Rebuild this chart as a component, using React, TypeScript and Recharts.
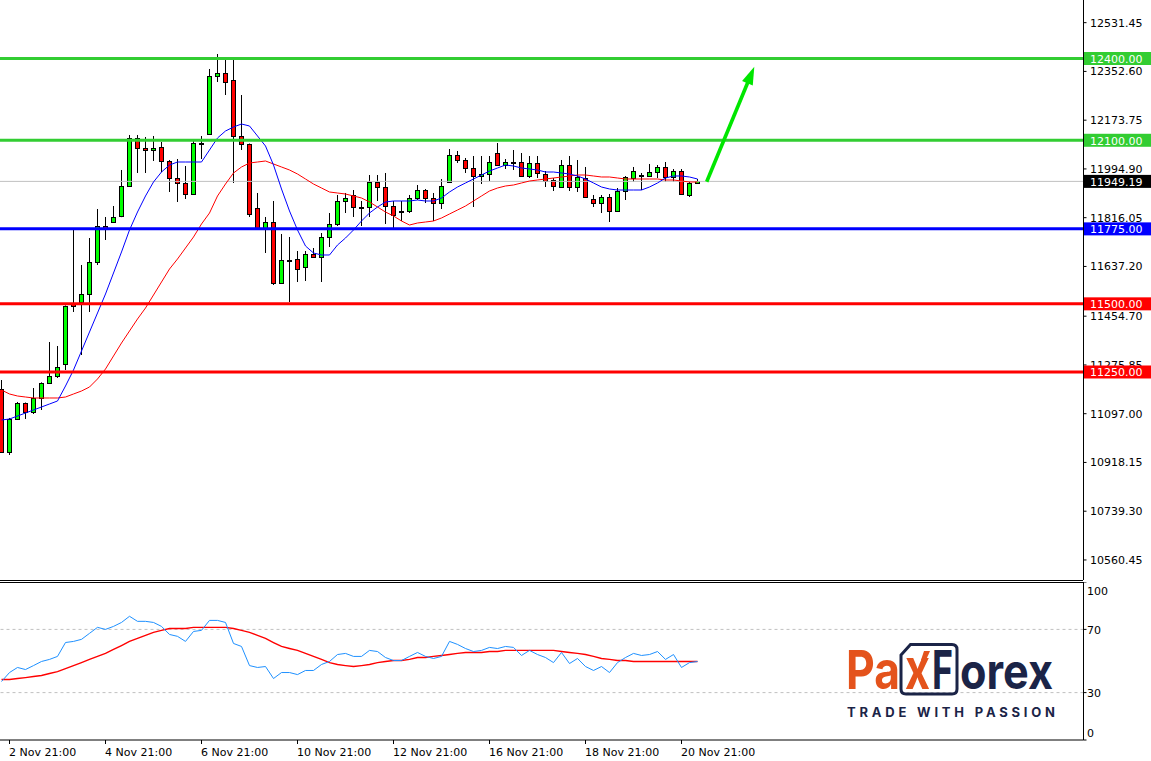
import React from 'react';
import { ComposedChart, Bar, Line, XAxis, YAxis, ReferenceLine } from 'recharts';

// ---- price data (4h candles) ----
const opens = [11187.6,10956.5,11077.6,11136.2,11103.2,11154.6,11209.6,11235.3,11279.3,11503.1,11506.7,11536.1,11653.5,11785.5,11800.2,11822.2,11932.3,12108.4,12071.7,12064.3,12075.3,12024.0,11961.6,11943.3,11902.9,12090.0,12123.0,12335.8,12346.8,12321.1,12115.7,12086.3,11851.6,11778.2,11800.2,11576.4,11660.8,11664.5,11635.1,11682.8,11671.8,11745.2,11792.9,11877.3,11899.3,11855.2,11855.2,11946.9,11928.6,11858.9,11840.6,11840.6,11888.3,11917.6,11888.3,11869.9,11946.9,12046.0,12027.7,11998.3,11968.9,11976.3,12053.3,12009.3,12020.3,12020.3,11968.9,12016.7,11976.3,11954.3,11928.6,12009.3,11928.6,11961.6,11884.6,11869.9,11891.9,11840.6,11913.9,11961.6,11972.6,11968.9,11983.6,12002.0,11965.3,11987.3,11899.3,11943.3];
const highs = [11220.6,11081.3,11140.0,11138.0,11191.2,11212.0,11360.0,11345.3,11494.0,11770.9,11642.5,11741.5,11847.9,11818.6,11858.9,11991.0,12119.4,12119.4,12112.0,12115.7,12093.7,12027.7,12031.3,12005.6,12101.0,12115.7,12361.5,12416.5,12394.5,12394.5,12266.1,12088.0,11906.6,11818.6,11877.3,11756.2,11745.2,11693.8,11693.8,11704.8,11759.8,11833.2,11899.3,11906.6,11917.6,11877.3,11972.6,11972.6,11980.0,11877.3,11877.3,11899.3,11935.9,11921.3,11906.6,11957.9,12068.0,12060.7,12035.0,12042.3,12042.3,12042.3,12090.0,12031.3,12064.3,12053.3,12042.3,12042.3,11987.3,11961.6,12027.7,12042.3,12027.7,12002.0,11899.3,11899.3,11902.9,11924.9,11968.9,12002.0,11980.0,12013.0,12009.3,12020.3,11994.6,11994.6,11950.6,11957.9];
const lows = [10952.8,10945.5,11074.0,11077.6,11095.9,11110.6,11206.0,11228.0,11257.3,11470.1,11312.3,11470.1,11642.5,11734.2,11796.5,11818.0,11928.6,11980.0,11980.0,12024.0,11983.6,11910.3,11873.6,11884.6,11899.3,12031.3,12120.0,12313.8,12266.1,11943.3,12064.3,11818.6,11777.0,11686.5,11569.1,11574.0,11506.7,11580.1,11583.8,11670.0,11580.1,11708.5,11785.5,11833.2,11818.6,11785.5,11818.6,11877.3,11792.9,11778.2,11803.9,11833.2,11880.9,11869.9,11803.9,11847.9,11945.0,12016.7,11980.0,11855.2,11939.6,11950.6,12008.0,11994.6,11991.0,11965.3,11961.6,11961.6,11928.6,11913.9,11927.0,11913.9,11910.3,11890.0,11855.2,11833.2,11800.2,11839.0,11880.9,11946.9,11917.6,11967.0,11961.6,11946.9,11946.9,11901.0,11891.9,11939.6];
const closes = [10956.5,11077.6,11136.2,11103.2,11154.6,11209.6,11235.3,11268.3,11492.1,11492.1,11536.1,11653.5,11785.5,11774.5,11818.6,11932.3,12108.4,12071.7,12064.3,12071.7,12024.0,11961.6,11943.3,11902.9,12090.0,12088.5,12335.8,12346.8,12313.8,12115.7,12086.3,11829.6,11778.2,11800.2,11576.4,11660.8,11662.5,11627.8,11682.8,11671.8,11745.2,11792.9,11877.3,11888.3,11855.2,11856.5,11946.9,11928.6,11858.9,11825.9,11842.0,11888.3,11917.6,11888.3,11869.9,11932.3,12046.0,12027.7,11998.3,11968.9,11976.3,12020.3,12009.3,12020.3,12021.5,11968.9,12016.7,11980.0,11950.6,11932.3,12009.3,11928.6,11965.3,11891.9,11869.9,11891.9,11840.6,11913.9,11965.3,11987.3,11974.0,11983.6,12002.0,11965.3,11987.3,11902.9,11943.3,11949.19];
const maFast = [11073.9,11077.5,11088.5,11099.5,11110.6,11121.6,11132.6,11143.6,11198.6,11257.3,11327.0,11396.7,11466.4,11536.1,11613.1,11690.2,11770.9,11836.9,11895.6,11947.0,11983.6,12009.3,12020.3,12020.3,12020.3,12020.3,12064.3,12108.4,12134.0,12148.7,12159.7,12152.4,12115.7,12079.0,12009.3,11921.3,11840.6,11770.9,11712.2,11686.5,11679.2,11679.2,11715.8,11741.5,11770.9,11803.9,11833.2,11855.2,11873.6,11877.3,11877.3,11877.3,11880.9,11877.3,11877.3,11888.3,11910.3,11928.6,11943.3,11958.0,11972.6,11987.3,11998.3,12009.3,12005.6,11998.3,11994.6,11991.0,11983.6,11983.6,11980.0,11976.3,11969.0,11958.0,11943.3,11928.6,11921.3,11917.6,11917.6,11917.6,11917.6,11928.6,11943.3,11961.6,11969.0,11969.0,11965.3,11958.0];
const maSlow = [11183.9,11169.3,11161.9,11158.2,11154.6,11154.6,11154.6,11154.6,11158.2,11169.3,11180.2,11194.9,11224.3,11261.0,11308.7,11356.3,11400.4,11444.4,11484.7,11532.4,11580.1,11627.8,11664.5,11704.8,11745.2,11792.9,11833.2,11895.6,11939.6,11980.0,12002.0,12016.6,12020.3,12024.0,12013.0,12002.0,11991.0,11976.3,11958.0,11939.6,11924.9,11910.3,11906.6,11902.9,11895.6,11888.3,11873.6,11855.2,11836.9,11822.2,11803.9,11789.2,11796.5,11800.2,11803.9,11814.9,11829.6,11844.2,11858.9,11877.3,11895.6,11913.9,11924.9,11932.3,11935.9,11943.3,11950.6,11954.3,11958.0,11961.6,11965.3,11969.0,11972.6,11972.6,11969.0,11965.3,11965.3,11961.6,11958.0,11958.0,11958.0,11958.0,11958.0,11954.3,11954.3,11950.6,11947.0,11947.0];
const rsiValues = [37.0,42.7,45.9,44.6,47.1,49.7,51.0,52.9,61.7,62.4,63.7,67.5,71.3,70.0,71.9,74.4,78.3,75.1,75.1,74.4,71.9,66.8,65.6,62.4,68.7,69.4,75.7,75.7,74.4,61.1,59.2,47.1,45.9,46.5,38.9,42.7,42.7,41.4,44.0,44.0,47.8,49.7,54.1,54.8,52.9,52.9,56.7,56.0,52.2,50.3,50.3,52.9,55.4,52.9,51.6,52.9,62.4,60.5,57.9,56.0,56.7,58.6,57.9,59.2,58.6,53.5,56.7,54.1,52.2,49.0,55.4,48.4,51.6,46.5,44.0,46.5,42.7,49.0,52.2,54.8,53.5,54.1,56.0,51.0,54.1,45.9,49.0,49.7];
const rsiSignal = [38.3,38.3,38.9,39.5,40.2,40.8,42.1,43.3,45.2,47.1,49.0,51.0,52.9,54.8,57.3,59.8,62.4,64.3,66.2,68.1,69.4,70.6,70.6,70.6,71.3,71.3,71.3,71.3,71.3,70.6,69.4,68.1,66.2,64.3,61.7,59.2,57.9,56.7,54.8,52.9,51.0,49.0,47.8,47.1,46.5,47.1,47.8,49.0,49.7,50.3,50.3,51.0,52.2,52.2,52.9,53.5,54.1,54.8,55.4,55.4,55.4,56.0,56.0,56.7,56.7,56.7,56.7,56.7,56.7,56.7,56.0,55.4,54.8,54.1,52.9,51.6,51.0,50.3,50.3,49.7,49.7,49.7,49.7,49.7,49.7,49.7,49.7,49.7];

const priceTicks = [12531.45, 12352.60, 12173.75, 11994.90, 11816.05, 11637.20, 11454.70, 11275.85, 11097.00, 10918.15, 10739.30, 10560.45];
const resistanceLevels = [12400, 12100];
const pivotLevel = 11775;
const supportLevels = [11500, 11250];
const lastPrice = 11949.19;
const dateTickIndex = [1, 13, 25, 37, 49, 61, 73, 85];
const dateTickLabels = ['2 Nov 21:00', '4 Nov 21:00', '6 Nov 21:00', '10 Nov 21:00', '12 Nov 21:00', '16 Nov 21:00', '18 Nov 21:00', '20 Nov 21:00'];
const rsiTicks = [0, 30, 70, 100];
const rsiBands = [30, 70];
const arrowFrom = { k: 88.15, price: 11948.1 };
const arrowTo = { k: 94.1, price: 12369.9 };

const rows = closes.map((c, i) => ({
  k: i,
  open: opens[i],
  high: highs[i],
  low: lows[i],
  close: c,
  range: [lows[i], highs[i]],
  fast: maFast[i],
  slow: maSlow[i],
  rsi: rsiValues[i],
  signal: rsiSignal[i],
}));

const FONT = 'DejaVu Sans';
const X_DOMAIN: [number, number] = [-0.1875, -0.1875 + 1083.5 / 8];
const PRICE_DOMAIN: [number, number] = [12614.6 - 580 * 3.6684, 12614.6];

const CandleShape = (props: any) => {
  let { x, y, width, height, payload } = props;
  if (payload == null || height == null) return null;
  if (height < 0) { y += height; height = -height; }
  const { open, high, low, close } = payload;
  const span = high - low || 1;
  const toY = (p: number) => y + ((high - p) / span) * height;
  const cx = Math.round(x + width / 2 - 0.5) + 0.5;
  const yo = toY(open);
  const yc = toY(close);
  const top = Math.round(Math.min(yo, yc)) + 0.5;
  const bot = Math.max(top + 1, Math.round(Math.max(yo, yc)) + 0.5);
  const up = close >= open;
  return (
    <g>
      <line x1={cx} x2={cx} y1={y} y2={y + height} stroke="#000" strokeWidth={1} />
      <rect x={cx - 2} y={top} width={4} height={bot - top} fill={up ? '#00ff00' : '#ff0000'} stroke="#000" strokeWidth={1} />
    </g>
  );
};

const boxColor = (v: number): string | null => {
  if (resistanceLevels.includes(v)) return '#32cd32';
  if (v === pivotLevel) return '#0000ff';
  if (supportLevels.includes(v)) return '#ff0000';
  if (v === lastPrice) return '#000000';
  return null;
};

const PriceTick = (props: any) => {
  const { x, y, payload } = props;
  const v = payload.value as number;
  const c = boxColor(v);
  if (c) {
    return (
      <g>
        <rect x={x - 6} y={y - 6.5} width={68} height={13} fill={c} />
        <text x={x} y={y} dy={4.5} fill="#fff" fontSize={11} fontFamily={FONT}>{v.toFixed(2)}</text>
      </g>
    );
  }
  return <text x={x} y={y} dy={4} fill="#000" fontSize={11} fontFamily={FONT}>{v.toFixed(2)}</text>;
};

const RsiTick = (props: any) => {
  const { y, payload } = props;
  const v = payload.value as number;
  const dy = v === 100 ? 13 : v === 0 ? -3 : 4.5;
  return <text x={1087} y={y} dy={dy} fill="#000" fontSize={11} fontFamily={FONT}>{String(v)}</text>;
};

const DateTick = (props: any) => {
  const { x, y, payload } = props;
  const i = dateTickIndex.indexOf(payload.value);
  return <text x={x - 0.5} y={y} dy={9.5} textAnchor="start" fill="#000" fontSize={11} fontFamily={FONT}>{i >= 0 ? dateTickLabels[i] : ''}</text>;
};

const ArrowShape = (props: any) => {
  const { x1, y1, x2, y2 } = props;
  if ([x1, y1, x2, y2].some((n) => n == null || isNaN(n))) return null;
  const ang = Math.atan2(y2 - y1, x2 - x1);
  const headLen = 18;
  const headW = 5.8;
  const bx = x2 - headLen * Math.cos(ang);
  const by = y2 - headLen * Math.sin(ang);
  const px = -Math.sin(ang) * headW;
  const py = Math.cos(ang) * headW;
  return (
    <g>
      <line x1={x1} y1={y1} x2={bx + 2 * Math.cos(ang)} y2={by + 2 * Math.sin(ang)} stroke="#00e600" strokeWidth={3.6} />
      <polygon points={`${x2},${y2} ${bx + px},${by + py} ${bx - px},${by - py}`} fill="#00e600" />
    </g>
  );
};

const Logo = () => (
  <svg width={1151} height={761} style={{ position: 'absolute', left: 0, top: 0, pointerEvents: 'none' }}>
    <text x={846} y={689} fontFamily="Inter" fontWeight={700} fontSize={54} fill="#e4531c" textLength={54} lengthAdjust="spacingAndGlyphs">Pa</text>
    <path d="M 910.5 644.5 L 952 644.5 Q 957 644.5 957 649.5 L 957 689 Q 957 694 952 694 L 906 694 Q 901 694 901 689 L 901 655 Z" fill="none" stroke="#1b2447" strokeWidth={3} />
    <text x={905} y={689} fontFamily="Inter" fontWeight={700} fontSize={56} fill="#e4531c" textLength={25} lengthAdjust="spacingAndGlyphs">x</text>
    <path d="M 924 651 L 930 651 L 926 660 L 921 660 Z" fill="#e4531c" />
    <text x={932} y={689} fontFamily="Inter" fontWeight={700} fontSize={54} fill="#1b2447" textLength={21} lengthAdjust="spacingAndGlyphs">F</text>
    <text x={960} y={689} fontFamily="Inter" fontWeight={700} fontSize={50} fill="#1b2447" textLength={93} lengthAdjust="spacingAndGlyphs">orex</text>
    <text x={847} y={717} fontFamily="Inter" fontWeight={700} fontSize={13} fill="#1b2447" textLength={208} lengthAdjust="spacing">TRADE WITH PASSION</text>
  </svg>
);

export default function App() {
  const levelTicks = [...priceTicks, ...resistanceLevels, pivotLevel, ...supportLevels, lastPrice];
  return (
    <div style={{ position: 'absolute', left: 0, top: 0, width: 1151, height: 761, background: '#fff', overflow: 'hidden' }}>
      <div style={{ position: 'absolute', left: 0, top: 0 }}>
        <ComposedChart width={1151} height={580} data={rows} margin={{ top: 0, right: 0, bottom: 0, left: 0 }}>
          <XAxis type="number" dataKey="k" domain={X_DOMAIN} allowDataOverflow hide />
          <YAxis
            orientation="right"
            width={67.5}
            domain={PRICE_DOMAIN}
            allowDataOverflow
            ticks={levelTicks}
            interval={0}
            tick={PriceTick}
            tickSize={3}
            tickMargin={3.5}
            axisLine={{ stroke: '#000' }}
            tickLine={{ stroke: '#000' }}
          />
          <ReferenceLine y={lastPrice} stroke="#c0c0c0" strokeWidth={1} />
          <Bar dataKey="range" barSize={5} shape={CandleShape} isAnimationActive={false} />
          <Line dataKey="slow" type="linear" stroke="#ff0000" strokeWidth={1} dot={false} activeDot={false} isAnimationActive={false} />
          <Line dataKey="fast" type="linear" stroke="#0000ff" strokeWidth={1} dot={false} activeDot={false} isAnimationActive={false} />
          {resistanceLevels.map((v) => (
            <ReferenceLine key={v} y={v} stroke="#32cd32" strokeWidth={3} />
          ))}
          <ReferenceLine y={pivotLevel} stroke="#0000ff" strokeWidth={3} />
          {supportLevels.map((v) => (
            <ReferenceLine key={v} y={v} stroke="#ff0000" strokeWidth={3} />
          ))}
          <ReferenceLine
            segment={[{ x: arrowFrom.k, y: arrowFrom.price }, { x: arrowTo.k, y: arrowTo.price }]}
            shape={ArrowShape}
            ifOverflow="visible"
          />
        </ComposedChart>
      </div>
      <div style={{ position: 'absolute', left: 0, top: 580, width: 1083, height: 1, background: '#000' }} />
      <div style={{ position: 'absolute', left: 0, top: 582, width: 1083, height: 1, background: '#000' }} />
      <div style={{ position: 'absolute', left: 0, top: 582 }}>
        <ComposedChart width={1151} height={179} data={rows} margin={{ top: 0, right: 0, bottom: 0, left: 0 }}>
          <XAxis
            type="number"
            dataKey="k"
            domain={X_DOMAIN}
            allowDataOverflow
            ticks={dateTickIndex}
            interval={0}
            height={21}
            tick={DateTick}
            tickSize={4}
            tickMargin={2}
            axisLine={{ stroke: '#000' }}
            tickLine={{ stroke: '#000' }}
          />
          <YAxis
            orientation="right"
            width={67.5}
            domain={[0, 100]}
            allowDataOverflow
            ticks={rsiTicks}
            interval={0}
            tick={RsiTick}
            tickSize={3}
            axisLine={{ stroke: '#000' }}
            tickLine={{ stroke: '#000' }}
          />
          {rsiBands.map((v) => (
            <ReferenceLine key={v} y={v} stroke="#c0c0c0" strokeDasharray="3 3" strokeWidth={1} />
          ))}
          <Line dataKey="signal" type="linear" stroke="#ff0000" strokeWidth={1.4} dot={false} activeDot={false} isAnimationActive={false} />
          <Line dataKey="rsi" type="linear" stroke="#1e90ff" strokeWidth={1} dot={false} activeDot={false} isAnimationActive={false} />
        </ComposedChart>
      </div>
      <Logo />
    </div>
  );
}
